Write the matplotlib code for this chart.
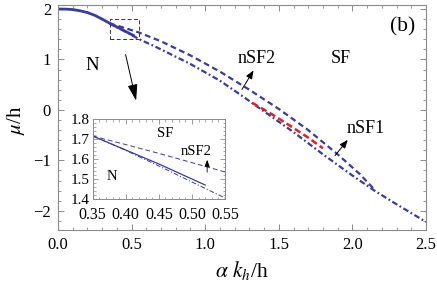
import matplotlib
matplotlib.use("Agg")
import matplotlib.pyplot as plt
from matplotlib.patches import Rectangle
from matplotlib.ticker import MultipleLocator

plt.rcParams['font.family'] = ['Liberation Serif', 'DejaVu Serif']
plt.rcParams['mathtext.fontset'] = 'stix'

# ---- data ----
# normal-state boundary (solid)
n_x = [0.0, 0.05, 0.1, 0.15, 0.2, 0.25, 0.3, 0.35, 0.4, 0.45, 0.5, 0.52]
n_y = [2.0, 1.998, 1.99, 1.965, 1.93, 1.875, 1.80, 1.72, 1.645, 1.57, 1.495, 1.465]
# nSF2 boundary (dashed, upper)
sf2_x = [0.35, 0.45, 0.55, 0.7, 0.9, 1.1, 1.3, 1.5, 1.7, 1.9, 2.05, 2.15]
sf2_y = [1.715, 1.628, 1.535, 1.36, 1.08, 0.76, 0.40, 0.02, -0.40, -0.88, -1.27, -1.58]
# nSF1 boundary (dash-dot, lower)
sf1_x = [0.35, 0.45, 0.55, 0.7, 0.9, 1.1, 1.25, 1.4, 1.6, 1.8, 2.0, 2.15, 2.3, 2.5]
sf1_y = [1.715, 1.565, 1.405, 1.20, 0.91, 0.58, 0.28, -0.03, -0.44, -0.88, -1.30, -1.60, -1.87, -2.22]
# first-order segment (red)
red_x = [1.32, 1.45, 1.58, 1.70, 1.80]
red_y = [0.14, -0.08, -0.32, -0.55, -0.76]
# inset curves
in_n_x = [0.35, 0.40, 0.45, 0.50, 0.52]
in_n_y = [1.715, 1.645, 1.575, 1.50, 1.47]
in_sf2_x = [0.35, 0.40, 0.45, 0.50, 0.55]
in_sf2_y = [1.715, 1.672, 1.628, 1.582, 1.535]
in_sf1_x = [0.35, 0.40, 0.45, 0.50, 0.55]
in_sf1_y = [1.715, 1.643, 1.565, 1.485, 1.405]

x_ticks = [0.0, 0.5, 1.0, 1.5, 2.0, 2.5]
y_ticks = [-2, -1, 0, 1, 2]
in_x_ticks = [0.35, 0.40, 0.45, 0.50, 0.55]
in_y_ticks = [1.4, 1.5, 1.6, 1.7, 1.8]

blue = '#3a3aa3'
gray = '#8a8a8a'

fig = plt.figure(figsize=(4.37, 2.87), dpi=100)
ax = fig.add_axes([58/437, 1-230/287, (426-58)/437, (230-5)/287])

ax.plot(n_x, n_y, color=blue, lw=2.0, solid_capstyle='butt')
ax.plot(sf2_x, sf2_y, color=blue, lw=1.6, linestyle=(0, (2.6, 1.6)))
ax.plot(sf1_x, sf1_y, color=blue, lw=1.6, linestyle=(0, (2.6, 1.2, 0.8, 1.2)))
ax.plot(red_x, red_y, color='#ee1c1c', lw=1.8, linestyle=(0, (2.6, 1.4)))

ax.set_xlim(0, 2.5)
ax.set_ylim(-2.38, 2.08)
ax.set_xticks(x_ticks)
ax.set_xticklabels([f"{v:.1f}" for v in x_ticks])
ax.set_yticks(y_ticks)
ax.set_yticklabels([str(v).replace('-', '\u2212') for v in y_ticks])
ax.xaxis.set_minor_locator(MultipleLocator(0.1))
ax.yaxis.set_minor_locator(MultipleLocator(0.2))
ax.tick_params(which='both', direction='in', top=True, right=True, color=gray,
               labelsize=12, pad=5)
ax.tick_params(which='major', length=4.5, width=0.7)
ax.tick_params(which='minor', length=2.5, width=0.6)
for s in ax.spines.values():
    s.set_color(gray)
    s.set_linewidth(0.8)

# dashed zoom box
ax.add_patch(Rectangle((0.35, 1.4), 0.2, 0.4, fill=False, ls=(0, (4, 2.5)),
                       lw=0.7, ec='#333333'))
ax.annotate('', xy=(0.535, 0.13), xytext=(0.455, 1.15),
            arrowprops=dict(arrowstyle='-|>,head_length=1.0,head_width=0.3', lw=0.7, color='k'))

ax.text(0.23, 0.89, 'N', fontsize=13.5, ha='center', va='center')
ax.text(2.34, 1.64, '(b)', fontsize=15.5, ha='center', va='center')
ax.text(1.35, 1.02, 'nSF2', fontsize=13, ha='center', va='center')
ax.text(1.92, 1.02, 'SF', fontsize=13, ha='center', va='center')
ax.text(2.09, -0.36, 'nSF1', fontsize=13, ha='center', va='center')
ax.annotate('', xy=(1.338, 0.83), xytext=(1.24, 0.36),
            arrowprops=dict(arrowstyle='-|>,head_length=0.5,head_width=0.2', lw=0.7, color='k'))
ax.annotate('', xy=(1.98, -0.55), xytext=(1.87, -0.95),
            arrowprops=dict(arrowstyle='-|>,head_length=0.5,head_width=0.2', lw=0.7, color='k'))

fig.text(16/437, 1-120/287, r'$\mu$/h', rotation=90, fontsize=15, ha='center', va='center')
fig.text(242/437, 1-271/287, r'$\alpha\ k_h$/h', fontsize=15.5, ha='center', va='center')

# inset
ins = fig.add_axes([92.7/437, 1-199/287, (225-92.7)/437, (199-119)/287])
ins.plot(in_n_x, in_n_y, color=blue, lw=0.9)
ins.plot(in_sf2_x, in_sf2_y, color=blue, lw=0.7, linestyle=(0, (5, 3)))
ins.plot(in_sf1_x, in_sf1_y, color=blue, lw=0.7, linestyle=(0, (5, 2, 1.2, 2)))
ins.set_xlim(0.35, 0.55)
ins.set_ylim(1.4, 1.8)
ins.set_xticks(in_x_ticks)
ins.set_xticklabels([f"{v:.2f}" for v in in_x_ticks])
ins.set_yticks(in_y_ticks)
ins.set_yticklabels([f"{v:.1f}" for v in in_y_ticks])
ins.xaxis.set_minor_locator(MultipleLocator(0.01))
ins.yaxis.set_minor_locator(MultipleLocator(0.02))
ins.tick_params(which='both', direction='in', top=True, right=True, color=gray)
ins.tick_params(axis='x', pad=5.5, labelsize=11.5)
ins.tick_params(axis='y', pad=2, labelsize=11)
ins.tick_params(which='major', length=3.5, width=0.6)
ins.tick_params(which='minor', length=1.8, width=0.5)
for s in ins.spines.values():
    s.set_color(gray)
    s.set_linewidth(0.7)
ins.text(0.459, 1.728, 'SF', fontsize=10.5, ha='center', va='center')
ins.text(0.506, 1.637, 'nSF2', fontsize=10.5, ha='center', va='center')
ins.text(0.379, 1.515, 'N', fontsize=10.5, ha='center', va='center')
ins.annotate('', xy=(0.523, 1.61), xytext=(0.523, 1.52),
             arrowprops=dict(arrowstyle='-|>,head_length=0.4,head_width=0.15', lw=0.6, color='k'))

fig.savefig('out.png', dpi=100)
